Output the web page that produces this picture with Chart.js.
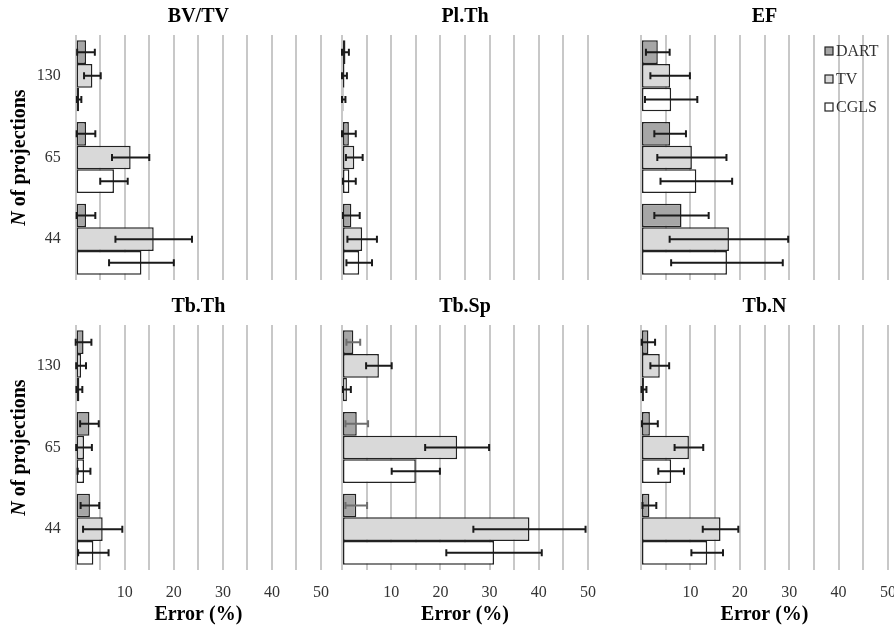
<!DOCTYPE html>
<html>
<head>
<meta charset="utf-8">
<script src="https://cdn.jsdelivr.net/npm/chart.js@4.4.1/dist/chart.umd.min.js"></script>
<style>
  html, body { margin: 0; padding: 0; background: #fff; overflow: hidden; }
  #wrap { position: relative; width: 894px; height: 628px; overflow: hidden; }
  .panel { position: absolute; }
</style>
</head>
<body>
<div id="wrap"></div>
<script>
// projections (top to bottom) and methods
const categories = ['130', '65', '44'];
const seriesNames = ['DART', 'TV', 'CGLS'];
const seriesColors = ['#a6a6a6', '#d9d9d9', '#ffffff'];
const panelTitles = ['BV/TV', 'Pl.Th', 'EF', 'Tb.Th', 'Tb.Sp', 'Tb.N'];

// mean error (%) per method: [DART], [TV], [CGLS]; columns follow categories
const bvtvValues = [[2.1, 2.1, 2.1], [3.4, 11.2, 15.9], [0.7, 7.8, 13.4]];
const bvtvErrors = [[1.8, 1.9, 1.9], [1.7, 3.8, 7.8], [0.45, 2.8, 6.6]];

const plthValues = [[0.7, 1.4, 1.9], [0.5, 2.5, 4.1], [0.3, 1.5, 3.5]];
const plthErrors = [[0.7, 1.4, 1.7], [0.5, 1.7, 3.0], [0.4, 1.3, 2.6]];

const efValues = [[3.4, 5.9, 8.2], [5.9, 10.3, 17.8], [6.1, 11.2, 17.4]];
const efErrors = [[2.4, 3.2, 5.5], [4.0, 7.0, 12.0], [5.3, 7.25, 11.3]];

const tbthValues = [[1.6, 2.8, 2.9], [1.1, 1.7, 5.5], [0.75, 1.7, 3.6]];
const tbthErrors = [[1.6, 1.9, 1.9], [1.0, 1.6, 4.0], [0.6, 1.3, 3.1]];

const tbspValues = [[2.3, 3.0, 2.9], [7.5, 23.4, 38.1], [1.0, 15.0, 30.9]];
const tbspErrors = [[1.4, 2.3, 2.2], [2.6, 6.5, 11.4], [0.8, 4.9, 9.7]];

const tbnValues = [[1.5, 1.8, 1.7], [3.8, 9.7, 16.1], [0.6, 6.1, 13.4]];
const tbnErrors = [[1.35, 1.6, 1.4], [1.9, 2.9, 3.6], [0.5, 2.6, 3.2]];

const xMin = 0, xMax = 50, xStep = 5;
const xLabelStep = 10;

const panelValues = [bvtvValues, plthValues, efValues, tbthValues, tbspValues, tbnValues];
const panelErrors = [bvtvErrors, plthErrors, efErrors, tbthErrors, tbspErrors, tbnErrors];

const serif = "'Liberation Serif', 'Times New Roman', serif";

// horizontal error bars with end caps
const errorBars = {
  id: 'errorBars',
  afterDatasetsDraw(chart) {
    const ctx = chart.ctx;
    const xs = chart.scales.x;
    chart.data.datasets.forEach((ds, i) => {
      const meta = chart.getDatasetMeta(i);
      meta.data.forEach((bar, j) => {
        const v = ds.data[j], e = ds.errors[j];
        const x0 = xs.getPixelForValue(Math.max(v - e, 0));
        const x1 = xs.getPixelForValue(v + e);
        const y = bar.y;
        ctx.save();
        ctx.strokeStyle = ds.errorColor || '#1a1a1a';
        ctx.lineWidth = 2;
        ctx.beginPath();
        ctx.moveTo(x0, y); ctx.lineTo(x1, y);
        ctx.moveTo(x0, y - 3.5); ctx.lineTo(x0, y + 3.5);
        ctx.moveTo(x1, y - 3.5); ctx.lineTo(x1, y + 3.5);
        ctx.stroke();
        ctx.restore();
      });
    });
  }
};

// rotated y title with italic N
const yTitle = {
  id: 'yTitle',
  afterDraw(chart) {
    const ctx = chart.ctx;
    const area = chart.chartArea;
    const fontN = "italic bold 20px " + serif;
    const fontRest = "bold 20px " + serif;
    const rest = ' of projections';
    ctx.save();
    ctx.font = fontN;
    const wN = ctx.measureText('N').width;
    ctx.font = fontRest;
    const wR = ctx.measureText(rest).width;
    ctx.translate(20, (area.top + area.bottom) / 2);
    ctx.rotate(-Math.PI / 2);
    ctx.fillStyle = '#000';
    ctx.textBaseline = 'middle';
    ctx.textAlign = 'left';
    const start = -(wN + wR) / 2;
    ctx.font = fontN;
    ctx.fillText('N', start, 0);
    ctx.font = fontRest;
    ctx.fillText(rest, start + wN, 0);
    ctx.restore();
  }
};

// legend drawn inside the EF panel
const boxLegend = {
  id: 'boxLegend',
  afterDraw(chart) {
    const ctx = chart.ctx;
    ctx.save();
    ctx.font = '16px ' + serif;
    ctx.textBaseline = 'middle';
    chart.data.datasets.forEach((ds, i) => {
      const y = 51 + i * 28;
      const x = 225;
      ctx.fillStyle = ds.backgroundColor;
      ctx.fillRect(x, y - 4, 8, 8);
      ctx.strokeStyle = '#222';
      ctx.lineWidth = 1.2;
      ctx.strokeRect(x, y - 4, 8, 8);
      ctx.fillStyle = '#333';
      ctx.fillText(ds.label, x + 11, y + 1);
    });
    ctx.restore();
  }
};

const cols = [
  { left: 0, width: 330, areaLeft: 75.7, areaRightPad: 9 },
  { left: 330, width: 270, areaLeft: 12, areaRightPad: 12 },
  { left: 600, width: 310, areaLeft: 41, areaRightPad: 22 }
];
const rows = [
  { top: 0, height: 290, axisH: 10, labels: false },
  { top: 290, height: 338, axisH: 58, labels: true }
];

const wrap = document.getElementById('wrap');

panelTitles.forEach((title, p) => {
  const col = cols[p % 3];
  const row = rows[Math.floor(p / 3)];
  const div = document.createElement('div');
  div.className = 'panel';
  div.style.left = col.left + 'px';
  div.style.top = row.top + 'px';
  div.style.width = col.width + 'px';
  div.style.height = row.height + 'px';
  const canvas = document.createElement('canvas');
  canvas.width = col.width;
  canvas.height = row.height;
  div.appendChild(canvas);
  wrap.appendChild(div);

  const datasets = seriesNames.map((name, s) => ({
    label: name,
    data: panelValues[p][s],
    errors: panelErrors[p][s],
    errorColor: (title === 'Tb.Sp' && s === 0) ? '#6e6e6e' : '#1a1a1a',
    backgroundColor: seriesColors[s],
    borderColor: '#222',
    borderWidth: 1.5,
    borderSkipped: false,
    categoryPercentage: 0.87,
    barPercentage: 1.0
  }));

  const plugins = [errorBars];
  if (p % 3 === 0) plugins.push(yTitle);
  if (p === 2) plugins.push(boxLegend);

  new Chart(canvas, {
    type: 'bar',
    data: { labels: categories, datasets: datasets },
    plugins: plugins,
    options: {
      indexAxis: 'y',
      responsive: false,
      animation: false,
      layout: { padding: { left: 0, right: col.areaRightPad, top: 0, bottom: 0 } },
      plugins: {
        legend: { display: false },
        tooltip: { enabled: false },
        title: {
          display: true,
          fullSize: false,
          text: title,
          color: '#000',
          font: { family: serif, size: 20, weight: 'bold' },
          padding: { top: 5, bottom: 6 }
        }
      },
      scales: {
        x: {
          type: 'linear',
          min: xMin,
          max: xMax,
          grid: { color: '#c8c8c8', lineWidth: 2, drawTicks: false },
          border: { display: false },
          ticks: {
            display: row.labels,
            stepSize: xStep,
            autoSkip: false,
            maxRotation: 0,
            padding: 13,
            color: '#333',
            font: { family: serif, size: 16 },
            callback: (v) => (v > 0 && v % xLabelStep === 0) ? v : ''
          },
          title: {
            display: row.labels,
            text: 'Error (%)',
            color: '#000',
            font: { family: serif, size: 20, weight: 'bold' },
            padding: { top: 0, bottom: 1 }
          },
          afterFit: (s) => { s.height = row.axisH; s.paddingLeft = 0; s.paddingRight = 0; }
        },
        y: {
          grid: { display: false, drawTicks: false },
          border: { display: false },
          ticks: {
            display: p % 3 === 0,
            padding: 15,
            color: '#333',
            font: { family: serif, size: 16 }
          },
          afterFit: (s) => { s.width = col.areaLeft; s.paddingTop = 0; s.paddingBottom = 0; }
        }
      }
    }
  });
});
</script>
</body>
</html>
